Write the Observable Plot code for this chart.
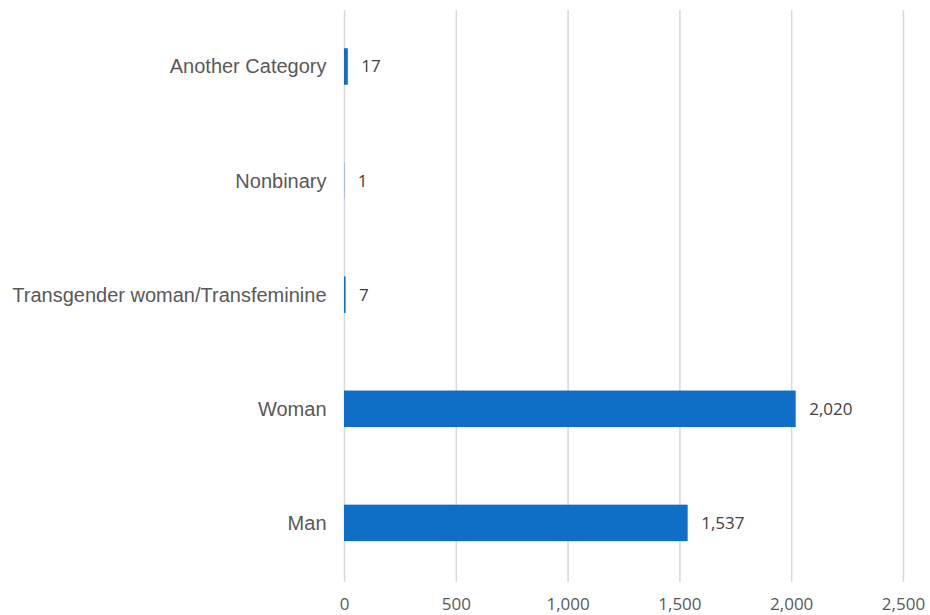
<!DOCTYPE html>
<html>
<head>
<meta charset="utf-8">
<script src="https://cdn.jsdelivr.net/npm/d3@7"></script>
<script src="https://cdn.jsdelivr.net/npm/@observablehq/plot@0.6"></script>
<style>
  html, body { margin: 0; padding: 0; background: #fff; }
  #chart { width: 930px; height: 615px; }
</style>
</head>
<body>
<div id="chart"></div>
<script>
const categories = ["Another Category", "Nonbinary", "Transgender woman/Transfeminine", "Woman", "Man"];
const values = [17, 1, 7, 2020, 1537];
const xTicks = [0, 500, 1000, 1500, 2000, 2500];

const data = categories.map((c, i) => ({category: c, value: values[i]}));
const fmt = d3.format(",");

const chart = Plot.plot({
  width: 930,
  height: 615,
  marginLeft: 344,
  marginRight: 27,
  marginTop: 10,
  marginBottom: 33,
  style: {background: "#fff"},
  x: {domain: [0, 2500], axis: null},
  y: {domain: categories, axis: null, range: [14, 575.4], paddingInner: 0.68, paddingOuter: 0.3, round: false},
  marks: [
    Plot.gridX(xTicks, {stroke: "#d9d9d9", strokeOpacity: 1, strokeWidth: 1.5}),
    Plot.barX(data, {x: "value", y: "category", fill: "#0f6fc6"}),
    Plot.text(data, {x: "value", y: "category", text: d => fmt(d.value), textAnchor: "start", dx: 13, fill: "#404040", fontSize: 17, fontFamily: "Open Sans"}),
    Plot.axisY({tickSize: 0, tickPadding: 18, fontSize: 20, fontFamily: "Liberation Sans, Arial, sans-serif", color: "#595959", label: null}),
    Plot.axisX(xTicks, {tickSize: 0, tickPadding: 15, fontSize: 17, fontFamily: "Open Sans", color: "#595959", tickFormat: fmt, label: null})
  ]
});
document.getElementById("chart").appendChild(chart);
</script>
</body>
</html>
